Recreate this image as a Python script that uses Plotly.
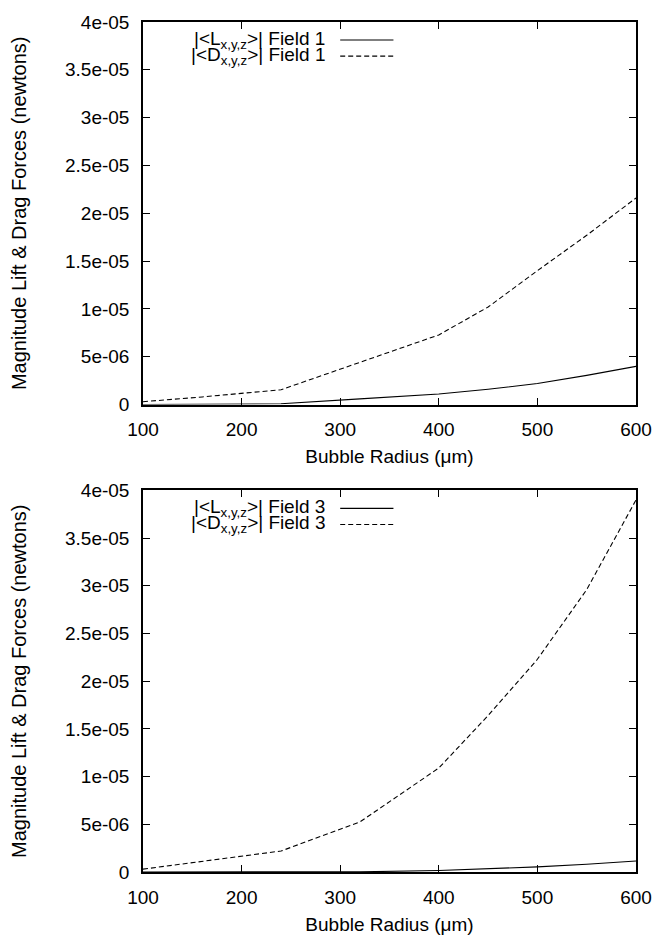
import plotly.graph_objects as go

# Bubble radius samples (micrometres)
radius = [100, 160, 240, 320, 400, 450, 500, 550, 600]

# Magnitudes of lift and drag forces (newtons)
lift_field1 = [0.0, 0.02e-6, 0.08e-6, 0.6e-6, 1.1e-6, 1.6e-6, 2.2e-6, 3.05e-6, 4.0e-6]
drag_field1 = [0.3e-6, 0.8e-6, 1.55e-6, 4.4e-6, 7.28e-6, 10.2e-6, 14.0e-6, 17.7e-6, 21.6e-6]
lift_field3 = [0.0, 0.0, 0.0, 0.02e-6, 0.15e-6, 0.32e-6, 0.54e-6, 0.82e-6, 1.16e-6]
drag_field3 = [0.3e-6, 1.1e-6, 2.2e-6, 5.25e-6, 10.9e-6, 16.4e-6, 22.3e-6, 29.6e-6, 39.0e-6]

x_ticks = [100, 200, 300, 400, 500, 600]
y_tickvals = [0, 5e-6, 1e-5, 1.5e-5, 2e-5, 2.5e-5, 3e-5, 3.5e-5, 4e-5]
y_ticktext = ["0", "5e-06", "1e-05", "1.5e-05", "2e-05", "2.5e-05", "3e-05", "3.5e-05", "4e-05"]

legend_top = ["|&lt;L<sub>x,y,z</sub>&gt;| Field 1", "|&lt;D<sub>x,y,z</sub>&gt;| Field 1"]
legend_bottom = ["|&lt;L<sub>x,y,z</sub>&gt;| Field 3", "|&lt;D<sub>x,y,z</sub>&gt;| Field 3"]

x_title = "Bubble Radius (μm)"
y_title = "Magnitude Lift &amp; Drag Forces (newtons)"

FAMILY = "Liberation Sans, Arial, Helvetica, sans-serif"
FONT = dict(family=FAMILY, size=19, color="black")
YTITLE_FONT = dict(family=FAMILY, size=20, color="black")
DASH = "5px,3px"
LW = 1.1

fig = go.Figure()
fig.add_trace(go.Scatter(x=radius, y=lift_field1, mode="lines",
                         line=dict(color="black", width=LW), xaxis="x", yaxis="y"))
fig.add_trace(go.Scatter(x=radius, y=drag_field1, mode="lines",
                         line=dict(color="black", width=LW, dash=DASH), xaxis="x", yaxis="y"))
fig.add_trace(go.Scatter(x=radius, y=lift_field3, mode="lines",
                         line=dict(color="black", width=LW), xaxis="x2", yaxis="y2"))
fig.add_trace(go.Scatter(x=radius, y=drag_field3, mode="lines",
                         line=dict(color="black", width=LW, dash=DASH), xaxis="x2", yaxis="y2"))


def xaxis_style(anchor):
    return dict(
        anchor=anchor, domain=[0, 1], range=[100, 600],
        tickvals=x_ticks, ticks="inside", ticklen=7, tickwidth=1.2, tickcolor="black",
        showline=True, linecolor="black", linewidth=1.5, mirror="ticks",
        showgrid=False, zeroline=False, ticklabelstandoff=7,
        title=dict(text=x_title, standoff=11, font=FONT), tickfont=FONT,
    )


def yaxis_style(anchor, domain):
    return dict(
        anchor=anchor, domain=domain, range=[0, 4e-5],
        tickvals=y_tickvals, ticktext=y_ticktext,
        ticks="inside", ticklen=7, tickwidth=1.2, tickcolor="black",
        showline=True, linecolor="black", linewidth=1.5, mirror="ticks",
        showgrid=False, zeroline=False, ticklabelstandoff=8,
        title=dict(text=y_title, standoff=33, font=YTITLE_FONT), tickfont=FONT,
    )


annotations = []
shapes = []
for xref, yref, labels in (("x domain", "y domain", legend_top),
                           ("x2 domain", "y2 domain", legend_bottom)):
    for row, (label, dash) in enumerate(zip(labels, ["solid", DASH])):
        ypos = 0.953 - row * 0.0422
        annotations.append(dict(
            text=label, xref=xref, yref=yref, x=0.374, y=ypos,
            xanchor="right", yanchor="middle", showarrow=False, font=FONT,
        ))
        shapes.append(dict(
            type="line", xref=xref, yref=yref, x0=0.4, x1=0.508, y0=ypos, y1=ypos,
            line=dict(color="black", width=LW, dash=dash),
        ))

fig.update_layout(
    width=664, height=944,
    margin=dict(l=143, r=21, t=12, b=61),
    paper_bgcolor="white", plot_bgcolor="white",
    showlegend=False, font=FONT,
    xaxis=xaxis_style("y"),
    yaxis=yaxis_style("x", [0.5499, 1.0]),
    xaxis2=xaxis_style("y2"),
    yaxis2=yaxis_style("x2", [0.0, 0.4489]),
    annotations=annotations, shapes=shapes,
)

fig.write_html("out.html")
